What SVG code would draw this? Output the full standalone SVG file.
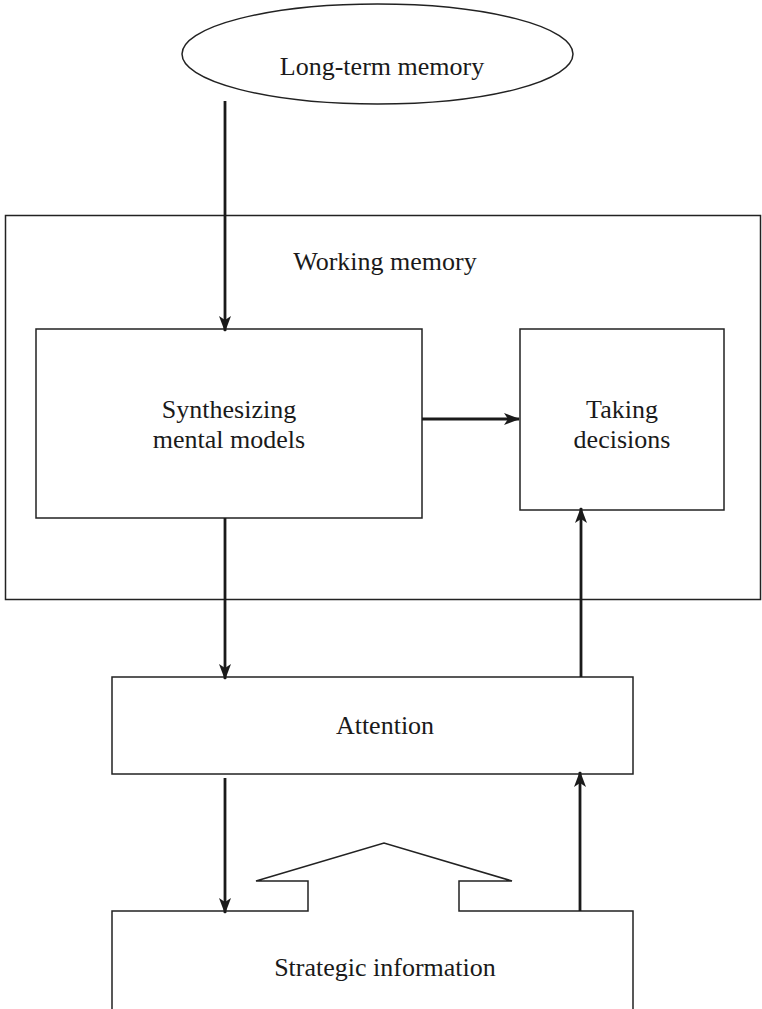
<svg xmlns="http://www.w3.org/2000/svg" width="762" height="1009" viewBox="0 0 762 1009">
  <style>
    .box { fill: none; stroke: #222; stroke-width: 1.5; }
    .lbl { font-family: "Liberation Serif", "Times New Roman", serif; font-size: 26px; fill: #1a1a1a; text-anchor: middle; }
    .conn { stroke: #1a1a1a; stroke-width: 2.8; fill: none; marker-end: url(#arrow); }
  </style>
  <defs>
    <marker id="arrow" viewBox="0 0 16 12" refX="15" refY="6" markerWidth="16" markerHeight="12" markerUnits="userSpaceOnUse" orient="auto">
      <path d="M0,0 L16,6 L0,12 L4,6 Z" fill="#1a1a1a"/>
    </marker>
  </defs>
  <rect width="762" height="1009" fill="#fff"/>

  <g id="long-term-memory">
    <ellipse class="box" cx="377.5" cy="54" rx="195.5" ry="50"/>
    <text class="lbl" x="382" y="75">Long-term memory</text>
  </g>

  <g id="working-memory">
    <rect class="box" x="5.5" y="215.5" width="755" height="384"/>
    <text class="lbl" x="385" y="270">Working memory</text>
  </g>

  <g id="synthesizing">
    <rect class="box" x="36" y="329" width="386" height="189"/>
    <text class="lbl" x="229" y="418">Synthesizing</text>
    <text class="lbl" x="229" y="448">mental models</text>
  </g>

  <g id="taking-decisions">
    <rect class="box" x="520" y="329" width="204" height="181"/>
    <text class="lbl" x="622" y="418">Taking</text>
    <text class="lbl" x="622" y="448">decisions</text>
  </g>

  <g id="attention">
    <rect class="box" x="112" y="677" width="521" height="97"/>
    <text class="lbl" x="385" y="734">Attention</text>
  </g>

  <g id="strategic-information">
    <path class="box" d="M112,1012 L112,911 L308,911 L308,881 L256,881 L384,843 L512,881 L459,881 L459,911 L633,911 L633,1012"/>
    <text class="lbl" x="385" y="976">Strategic information</text>
  </g>

  <g id="connectors">
    <line class="conn" x1="225" y1="101" x2="225" y2="331"/>
    <line class="conn" x1="422" y1="419" x2="519" y2="419"/>
    <line class="conn" x1="225" y1="518" x2="225" y2="679"/>
    <line class="conn" x1="581" y1="677" x2="581" y2="508"/>
    <line class="conn" x1="225" y1="778" x2="225" y2="913"/>
    <line class="conn" x1="580" y1="911" x2="580" y2="772"/>
  </g>
</svg>
